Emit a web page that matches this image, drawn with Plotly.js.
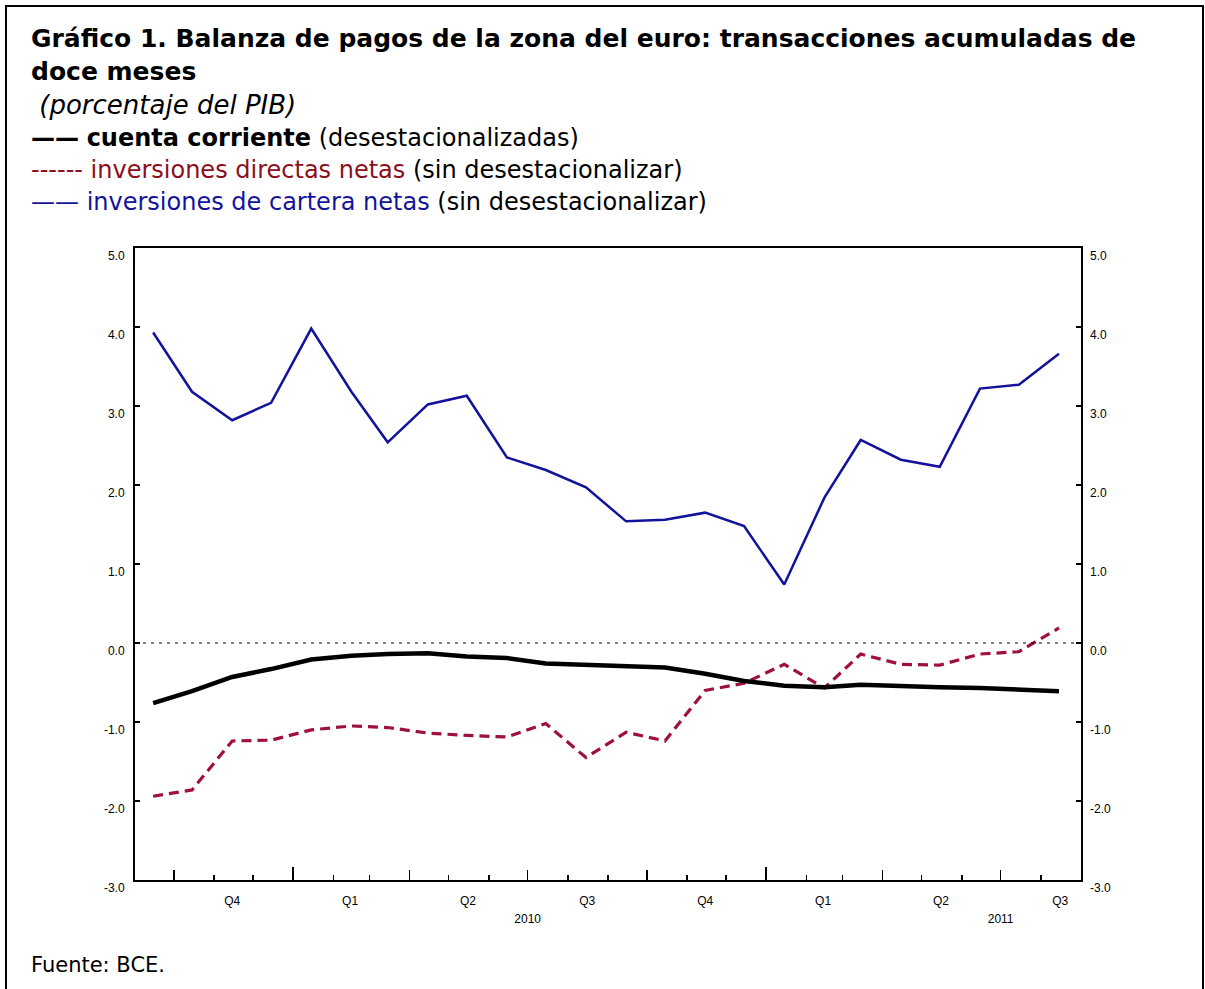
<!DOCTYPE html>
<html>
<head>
<meta charset="utf-8">
<script src="https://cdn.plot.ly/plotly-3.0.1.min.js"></script>
<style>
html,body{margin:0;padding:0;background:#fff;}
#chart{width:1205px;height:989px;}
</style>
</head>
<body>
<div id="chart"></div>
<script>
// Months (12-month cumulative transactions, Sep 2009 – Aug 2011), plotted mid-month
const months = ['2009-09-15','2009-10-15','2009-11-15','2009-12-15','2010-01-15','2010-02-15','2010-03-15','2010-04-15','2010-05-15','2010-06-15','2010-07-15','2010-08-15','2010-09-15','2010-10-15','2010-11-15','2010-12-15','2011-01-15','2011-02-15','2011-03-15','2011-04-15','2011-05-15','2011-06-15','2011-07-15','2011-08-15'];
// cuenta corriente (desestacionalizadas)
const cuentaCorriente = [-0.76,-0.61,-0.43,-0.33,-0.21,-0.16,-0.14,-0.13,-0.17,-0.19,-0.26,-0.28,-0.29,-0.31,-0.39,-0.48,-0.54,-0.56,-0.53,-0.55,-0.56,-0.57,-0.59,-0.61];
// inversiones directas netas (sin desestacionalizar)
const inversionesDirectas = [-1.94,-1.86,-1.24,-1.23,-1.10,-1.05,-1.07,-1.14,-1.17,-1.19,-1.02,-1.45,-1.13,-1.24,-0.60,-0.51,-0.27,-0.57,-0.14,-0.27,-0.28,-0.14,-0.11,0.19];
// inversiones de cartera netas (sin desestacionalizar)
const inversionesCartera = [3.93,3.18,2.82,3.04,3.98,3.18,2.54,3.02,3.13,2.35,2.19,1.97,1.54,1.56,1.65,1.48,0.74,1.84,2.57,2.32,2.23,3.22,3.27,3.66];

// Axis ticks and labels
const yTickVals = [-3,-2,-1,0,1,2,3,4,5];
const yTickText = ['-3.0','-2.0','-1.0','0.0','1.0','2.0','3.0','4.0','5.0'];
const quarterMidDates = ['2009-11-15','2010-02-14','2010-05-16','2010-08-16','2010-11-15','2011-02-14','2011-05-16','2011-08-16'];
const quarterLabels = ['Q4','Q1','Q2','Q3','Q4','Q1','Q2','Q3'];
const yearTickDates = ['2010-01-01','2011-01-01'];
const yearLabelDates = ['2010-07-01','2011-07-01'];
const yearLabels = ['2010','2011'];
const xRange = ['2009-09-01','2011-09-01'];

const tickFont = {family:'Liberation Sans, Arial, sans-serif', size:12, color:'#000'};
const textFont = 'DejaVu Sans, Verdana, sans-serif';

const traces = [
  {x:months, y:inversionesCartera, type:'scatter', mode:'lines', line:{color:'#12129c', width:2.5}, hoverinfo:'skip'},
  {x:months, y:inversionesDirectas, type:'scatter', mode:'lines', line:{color:'#a0103c', width:3.2, dash:'10px,6px'}, hoverinfo:'skip'},
  {x:months, y:cuentaCorriente, type:'scatter', mode:'lines', line:{color:'#000', width:4.5}, hoverinfo:'skip'},
  // helper (invisible) traces to activate extra axes
  {x:xRange, y:[0,0], xaxis:'x2', yaxis:'y', mode:'lines', line:{width:0}, hoverinfo:'skip'},
  {x:xRange, y:[0,0], xaxis:'x3', yaxis:'y', mode:'lines', line:{width:0}, hoverinfo:'skip'},
  {x:xRange, y:[0,0], xaxis:'x4', yaxis:'y', mode:'lines', line:{width:0}, hoverinfo:'skip'},
  {x:xRange, y:[0,0], xaxis:'x', yaxis:'y2', mode:'lines', line:{width:0}, hoverinfo:'skip'}
];

function ann(text, px, py, size, extra){
  return Object.assign({
    text:text, xref:'paper', yref:'paper',
    x:(px-135)/946, y:(880-py)/632,
    xanchor:'left', yanchor:'middle', showarrow:false,
    font:{family:textFont, size:size, color:'#000'}, align:'left'
  }, extra||{});
}

const layout = {
  width:1205, height:989,
  margin:{l:135, r:124, t:248, b:109},
  paper_bgcolor:'#fff', plot_bgcolor:'#fff',
  showlegend:false,
  xaxis:{type:'date', range:xRange, tickmode:'linear', tick0:'2009-10-01', dtick:'M3',
         ticks:'inside', ticklen:10, tickwidth:1.5, tickcolor:'#000', showticklabels:false,
         minor:{ticks:'inside', ticklen:5, tickwidth:1.5, tickcolor:'#000', dtick:'M1', tick0:'2009-09-01', showgrid:false},
         showgrid:false, zeroline:false, showline:true, linecolor:'#000', linewidth:2, mirror:true, fixedrange:true},
  xaxis2:{type:'date', range:xRange, overlaying:'x', anchor:'y', side:'bottom', tickmode:'array',
          tickvals:quarterMidDates, ticktext:quarterLabels, ticks:'', showgrid:false, zeroline:false, showline:false,
          tickfont:tickFont, ticklabelstandoff:12},
  xaxis3:{type:'date', range:xRange, overlaying:'x', anchor:'y', side:'bottom', tickmode:'array',
          tickvals:yearTickDates, ticks:'inside', ticklen:13, tickwidth:1.5, tickcolor:'#000',
          showticklabels:false, showgrid:false, zeroline:false, showline:false},
  xaxis4:{type:'date', range:xRange, overlaying:'x', anchor:'y', side:'bottom', tickmode:'array',
          tickvals:yearLabelDates, ticktext:yearLabels, ticks:'', showgrid:false, zeroline:false, showline:false,
          tickfont:tickFont, ticklabelstandoff:30},
  yaxis:{range:[-3,5], tickmode:'array', tickvals:yTickVals, ticktext:yTickText,
         ticks:'inside', ticklen:5, tickwidth:1.5, tickcolor:'#000', tickfont:tickFont, ticklabelshift:8, ticklabelstandoff:6,
         showgrid:false, zeroline:false, showline:true, linecolor:'#000', linewidth:2, mirror:true, fixedrange:true},
  yaxis2:{range:[-3,5], overlaying:'y', side:'right', anchor:'x', tickmode:'array', tickvals:yTickVals, ticktext:yTickText,
          ticks:'inside', ticklen:5, tickwidth:1.5, tickcolor:'#000', tickfont:tickFont, ticklabelshift:8, ticklabelstandoff:8,
          showgrid:false, zeroline:false, showline:false},
  shapes:[
    {type:'line', xref:'paper', yref:'y', x0:0, x1:1, y0:0, y1:0, line:{color:'#000', width:1.2, dash:'3px,5px'}},
    {type:'rect', xref:'paper', yref:'paper', x0:(6-135)/946, x1:(1203-135)/946, y0:(880-1000)/632, y1:(880-6)/632,
     line:{color:'#000', width:2}, fillcolor:'rgba(0,0,0,0)', layer:'below'}
  ],
  annotations:[
    ann('<b>Gráfico 1. Balanza de pagos de la zona del euro: transacciones acumuladas de</b>', 29, 38, 25),
    ann('<b>doce meses</b>', 29, 71, 25),
    ann('<i> (porcentaje del PIB)</i>', 29, 105, 26),
    ann('<b>——</b> <b>cuenta corriente</b> (desestacionalizadas)', 29, 138, 24),
    ann('<span style="color:#8b1020">------ inversiones directas netas</span> (sin desestacionalizar)', 29, 170, 24),
    ann('<span style="color:#14149a">—— inversiones de cartera netas</span> (sin desestacionalizar)', 29, 202, 24),
    ann('Fuente: BCE.', 29, 965, 21)
  ]
};

Plotly.newPlot('chart', traces, layout, {staticPlot:true});
</script>
</body>
</html>
